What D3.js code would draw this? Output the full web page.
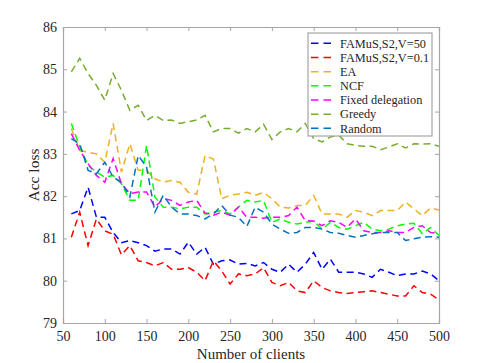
<!DOCTYPE html>
<html>
<head>
<meta charset="utf-8">
<script src="https://cdn.jsdelivr.net/npm/d3@7"></script>
<style>
  html, body { margin: 0; padding: 0; background: #fff; }
  svg { display: block; }
  svg text { font-family: "Times New Roman", "Liberation Serif", Times, serif; }
</style>
</head>
<body>
<svg id="chart" width="485" height="363"></svg>
<script>
// ---- data ----
const clients = d3.range(60, 501, 10);
const famusV50 = [81.58,81.66,82.21,81.5,81.5,81.14,80.9,80.95,80.9,80.83,80.7,80.75,80.75,80.63,80.91,80.63,80.79,80.39,80.47,80.49,80.39,80.41,80.35,80.43,80.27,80.2,80.39,80.2,80.39,80.67,80.27,80.51,80.2,80.2,80.2,80.16,80.08,80.27,80.2,80.12,80.16,80.16,80.23,80.16,80.0];
const famusV01 = [81.03,81.62,80.83,81.46,81.18,81.1,80.61,80.83,80.47,80.43,80.35,80.43,80.27,80.27,80.31,80.2,80.0,80.47,80.23,79.92,80.16,80.12,80.16,80.31,79.96,79.88,79.96,79.76,79.72,80.0,79.84,79.76,79.72,79.7,79.72,79.74,79.76,79.72,79.68,79.64,79.64,79.88,79.72,79.68,79.55];
const ea = [83.6,83.08,83.04,83.0,82.8,83.72,82.57,83.24,82.61,82.61,82.41,82.33,82.37,82.33,82.09,82.05,82.96,82.88,81.94,82.02,82.05,82.09,82.02,82.09,81.94,81.74,81.72,81.78,81.78,82.02,81.58,81.58,81.58,81.5,81.66,81.62,81.54,81.66,81.66,81.66,81.86,81.7,81.54,81.72,81.67];
const ncf = [83.72,83.16,82.73,82.57,82.45,82.49,82.29,81.9,81.9,83.2,81.98,81.74,81.74,81.7,81.74,81.74,81.58,81.62,81.66,81.58,81.74,81.9,81.86,81.9,81.38,81.46,81.38,81.34,81.38,81.41,81.22,81.38,81.26,81.22,81.3,81.38,81.22,81.18,81.22,81.3,81.34,81.36,81.11,81.26,81.07];
const fixedDelegation = [83.48,83.08,82.77,82.49,82.33,82.89,82.29,82.06,82.1,82.1,81.74,81.94,81.9,81.78,81.86,81.9,81.6,81.55,81.62,81.55,81.74,81.5,81.5,81.48,81.5,81.5,81.54,81.74,81.42,81.41,81.3,81.42,81.38,81.26,81.46,81.18,81.14,81.14,81.18,81.14,81.14,81.26,81.3,81.14,81.12];
const greedy = [84.94,85.26,84.9,84.62,84.27,84.9,84.5,84.03,84.15,83.79,83.91,83.79,83.8,83.72,83.76,83.8,83.91,83.52,83.6,83.6,83.49,83.6,83.52,83.7,83.34,83.52,83.6,83.52,83.72,83.36,83.28,83.4,83.44,83.24,83.2,83.18,83.18,83.1,83.16,83.24,83.14,83.24,83.23,83.24,83.18];
const random = [83.36,83.24,82.61,82.53,82.8,82.45,82.33,81.98,82.96,82.69,81.62,82.02,81.74,81.58,81.58,81.54,81.46,81.58,81.78,81.55,81.5,81.28,81.74,81.62,81.34,81.22,81.12,81.14,81.26,81.26,81.22,81.14,81.12,81.07,81.03,81.07,81.11,81.14,81.14,81.14,80.95,80.99,81.03,81.04,81.03];

const seriesNames = ["FAMuS,S2,V=50", "FAMuS,S2,V=0.1", "EA", "NCF", "Fixed delegation", "Greedy", "Random"];
const seriesColors = ["#0000ff", "#ff0000", "#edb120", "#00ff00", "#ff00ff", "#77ac30", "#0072bd"];
const seriesValues = [famusV50, famusV01, ea, ncf, fixedDelegation, greedy, random];

const xTicks = [50, 100, 150, 200, 250, 300, 350, 400, 450, 500];
const yTicks = [79, 80, 81, 82, 83, 84, 85, 86];

// ---- layout ----
const FONT = "'Times New Roman', 'Liberation Serif', Times, serif";
const svg = d3.select("#chart");
const L = 63, R = 439, T = 27, B = 323;
const x = d3.scaleLinear().domain([50, 500]).range([L, R]);
const y = d3.scaleLinear().domain([79, 86]).range([B, T]);

const frameColor = "#a6a6a6";
const textColor = "#262626";
const tickLen = 4;

// clip
svg.append("defs").append("clipPath").attr("id", "clip")
  .append("rect").attr("x", L).attr("y", T).attr("width", R - L).attr("height", B - T);

// axes
const gx = svg.append("g").attr("transform", `translate(0,${B})`)
  .call(d3.axisBottom(x).tickValues(xTicks).tickSize(-tickLen).tickPadding(8).tickFormat(d3.format("d")));
const gxTop = svg.append("g").attr("transform", `translate(0,${T})`)
  .call(d3.axisTop(x).tickValues(xTicks).tickSize(-tickLen).tickFormat(""));
const gy = svg.append("g").attr("transform", `translate(${L},0)`)
  .call(d3.axisLeft(y).tickValues(yTicks).tickSize(-tickLen).tickPadding(6).tickFormat(d3.format("d")));
const gyR = svg.append("g").attr("transform", `translate(${R},0)`)
  .call(d3.axisRight(y).tickValues(yTicks).tickSize(-tickLen).tickFormat(""));

[gx, gxTop, gy, gyR].forEach(g => {
  g.attr("font-family", FONT);
  g.select(".domain").attr("stroke", frameColor).attr("stroke-width", 1.2);
  g.selectAll(".tick line").attr("stroke", frameColor).attr("stroke-width", 1);
  g.selectAll(".tick text").attr("fill", textColor)
    .attr("font-family", FONT).attr("font-size", 14);
});
gx.selectAll(".tick line").filter(d => d === 50 || d === 500).remove();
gxTop.selectAll(".tick line").filter(d => d === 50 || d === 500).remove();
gy.selectAll(".tick line").filter(d => d === 79 || d === 86).remove();
gyR.selectAll(".tick line").filter(d => d === 79 || d === 86).remove();

// lines
const line = d3.line().x((d, i) => x(clients[i])).y(d => y(d));
const plot = svg.append("g").attr("clip-path", "url(#clip)");
seriesValues.forEach((vals, k) => {
  plot.append("path")
    .datum(vals)
    .attr("d", line)
    .attr("fill", "none")
    .attr("stroke", seriesColors[k])
    .attr("stroke-width", 1.5)
    .attr("stroke-dasharray", "7,4.5");
});

// axis labels
svg.append("text")
  .attr("x", (L + R) / 2).attr("y", 359)
  .attr("text-anchor", "middle")
  .attr("fill", textColor)
  .attr("font-family", FONT).attr("font-size", 15)
  .text("Number of clients");
svg.append("text")
  .attr("transform", `translate(39,${(T + B) / 2}) rotate(-90)`)
  .attr("text-anchor", "middle")
  .attr("fill", textColor)
  .attr("font-family", FONT).attr("font-size", 15.5)
  .text("Acc loss");

// legend
const lg = svg.append("g");
lg.append("rect")
  .attr("x", 308).attr("y", 33).attr("width", 124).attr("height", 103)
  .attr("fill", "#fff").attr("stroke", frameColor).attr("stroke-width", 1.2);
seriesNames.forEach((name, k) => {
  const cy = 43.3 + k * 14.17;
  lg.append("line")
    .attr("x1", 311).attr("x2", 331).attr("y1", cy).attr("y2", cy)
    .attr("stroke", seriesColors[k]).attr("stroke-width", 1.5)
    .attr("stroke-dasharray", "7.5,5");
  lg.append("text")
    .attr("x", 340).attr("y", cy).attr("dy", "0.35em")
    .attr("fill", textColor)
    .attr("font-family", FONT).attr("font-size", 12.3)
    .text(name);
});
</script>
</body>
</html>
